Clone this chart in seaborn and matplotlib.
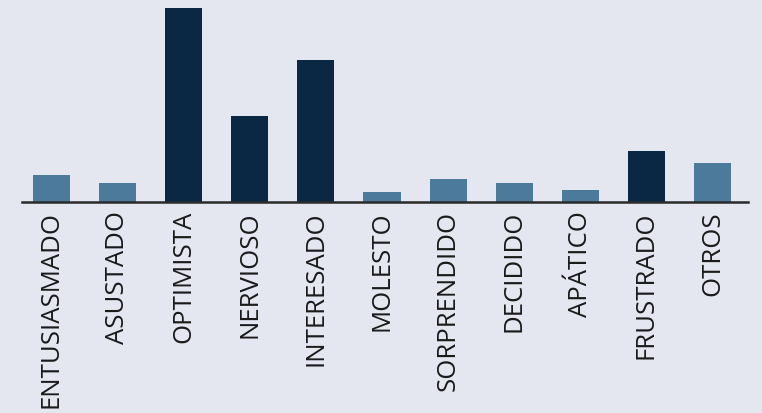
import matplotlib
matplotlib.use("Agg")
import matplotlib.pyplot as plt
import pandas as pd
import seaborn as sns

# emotion categories and share of responses (%)
emotions = ["ENTUSIASMADO", "ASUSTADO", "OPTIMISTA", "NERVIOSO", "INTERESADO",
            "MOLESTO", "SORPRENDIDO", "DECIDIDO", "APÁTICO", "FRUSTRADO", "OTROS"]
shares = [4.3, 3.1, 31.2, 13.8, 22.8, 1.6, 3.7, 3.1, 1.9, 8.2, 6.3]
highlight = [False, False, True, True, True, False, False, False, False, True, False]

BG = "#e5e7f0"
DARK = "#0a2844"
LIGHT = "#4b7a9a"

sns.set_theme(style="white")
plt.rcParams["font.family"] = ["Open Sans", "DejaVu Sans"]

df = pd.DataFrame({"emotion": emotions, "share": shares, "highlight": highlight})
palette = {e: (DARK if h else LIGHT) for e, h in zip(emotions, highlight)}

fig = plt.figure(figsize=(7.62, 4.13), dpi=100, facecolor=BG)
ax = fig.add_axes([22 / 762, 211 / 413, 726 / 762, 202 / 413])
ax.set_facecolor(BG)

sns.barplot(data=df, x="emotion", y="share", hue="emotion", palette=palette,
            legend=False, width=0.56, saturation=1, linewidth=0,
            edgecolor="none", ax=ax)

ax.set_xlim(-0.446, 10.537)
ax.set_ylim(0, 32.5)
ax.set_xlabel("")
ax.set_ylabel("")
ax.set_yticks([])
ax.tick_params(axis="x", length=0, pad=6.5, labelsize=18.5, labelcolor="#1a1a1a",
               labelrotation=90)
for lbl in ax.get_xticklabels():
    lbl.set_verticalalignment("top")

for side in ["top", "right", "left"]:
    ax.spines[side].set_visible(False)
ax.spines["bottom"].set_color("#2a2a2a")
ax.spines["bottom"].set_linewidth(1.8)

fig.savefig("out.png", dpi=100, facecolor=BG)
plt.close(fig)
